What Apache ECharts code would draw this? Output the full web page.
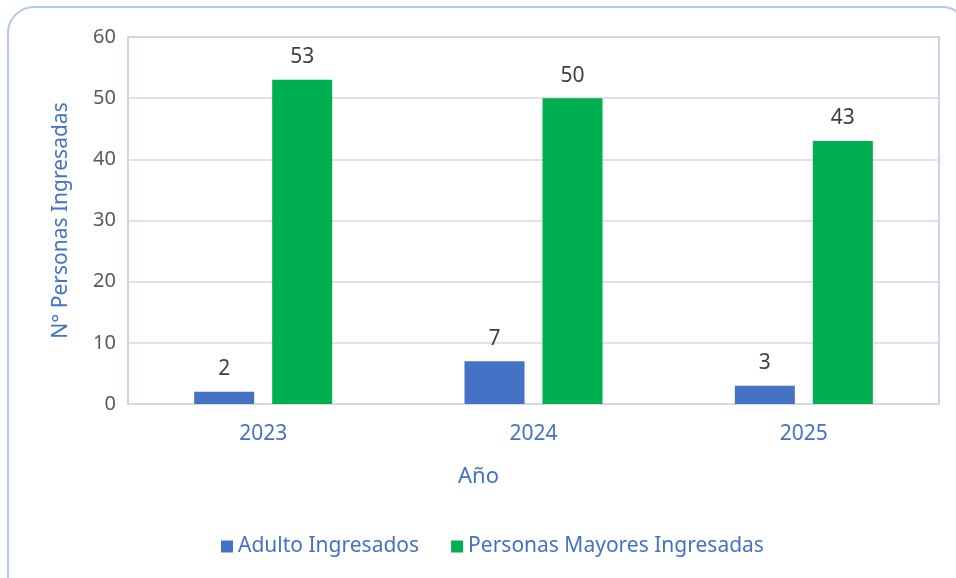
<!DOCTYPE html>
<html>
<head>
<meta charset="utf-8">
<script src="https://cdn.jsdelivr.net/npm/echarts@6/dist/echarts.min.js"></script>
<style>
html, body { margin: 0; padding: 0; background: #fff; }
#main { width: 956px; height: 578px; }
</style>
</head>
<body>
<div id="main"></div>
<script>
var years = ['2023', '2024', '2025'];
var adultos = [2, 7, 3];
var mayores = [53, 50, 43];
var yTicks = [0, 10, 20, 30, 40, 50, 60];

var font = 'Noto Sans';
var chart = echarts.init(document.getElementById('main'));

var option = {
    backgroundColor: '#fff',
    textStyle: { fontFamily: font },
    graphic: [
        {
            type: 'rect',
            shape: { x: 8, y: 7, width: 960, height: 600, r: 26 },
            style: { fill: 'none', stroke: '#b4c7e7', lineWidth: 2 },
            z: -1
        },
        {
            type: 'text',
            left: 458, top: 466,
            style: { text: 'Año', fill: '#4472c4', font: '22px "Noto Sans"' }
        }
    ],
    grid: {
        left: 128, right: 17, top: 37, bottom: 174,
        show: true, borderColor: '#b4c7e7', borderWidth: 1.5
    },
    legend: {
        bottom: 16, left: 216,
        itemWidth: 12, itemHeight: 12, itemGap: 32,
        icon: 'rect',
        textStyle: { color: '#4472c4', fontSize: 21, fontFamily: font },
        data: ['Adulto Ingresados', 'Personas Mayores Ingresadas']
    },
    xAxis: {
        type: 'category',
        data: years,
        axisTick: { show: false },
        axisLine: { lineStyle: { color: '#d9d9d9', width: 2 } },
        axisLabel: { color: '#4472c4', fontSize: 21, margin: 20, fontFamily: font }
    },
    yAxis: {
        type: 'value',
        min: yTicks[0], max: yTicks[yTicks.length - 1], interval: 10,
        name: 'N° Personas Ingresadas',
        nameLocation: 'middle',
        nameGap: 56,
        nameTextStyle: { color: '#4472c4', fontSize: 21, fontFamily: font },
        axisLine: { show: false },
        axisLabel: { color: '#595959', fontSize: 20, margin: 12, fontFamily: font },
        splitLine: { lineStyle: { color: '#d9d9d9', width: 1.5 } }
    },
    series: [
        {
            name: 'Adulto Ingresados',
            type: 'bar',
            data: adultos,
            barWidth: 60,
            barGap: '30%',
            itemStyle: { color: '#4472c4' },
            label: { show: true, position: 'top', distance: 12, color: '#404040', fontSize: 21, fontFamily: font }
        },
        {
            name: 'Personas Mayores Ingresadas',
            type: 'bar',
            data: mayores,
            barWidth: 60,
            itemStyle: { color: '#00b050' },
            label: { show: true, position: 'top', distance: 12, color: '#404040', fontSize: 21, fontFamily: font }
        }
    ]
};
chart.setOption(option);
</script>
</body>
</html>
